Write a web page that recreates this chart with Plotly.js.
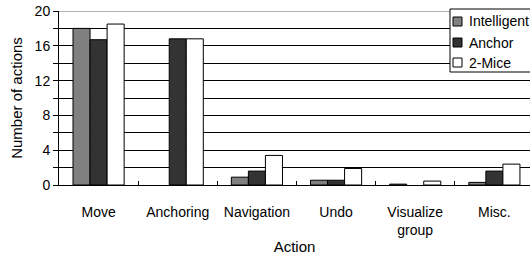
<!DOCTYPE html>
<html><head><meta charset="utf-8">
<script src="https://cdn.plot.ly/plotly-3.0.1.min.js"></script>
<style>html,body{margin:0;padding:0;background:#fff}#c{width:530px;height:256px}</style>
</head><body><div id="c"></div>
<script>
var categories = ["Move", "Anchoring", "Navigation", "Undo", "Visualize<br>group", "Misc."];
var seriesNames = ["Intelligent", "Anchor", "2-Mice"];
var intelligent = [18.0, 0, 0.9, 0.55, 0.1, 0.3];
var anchor = [16.7, 16.8, 1.6, 0.55, 0, 1.6];
var twoMice = [18.5, 16.8, 3.4, 1.9, 0.45, 2.4];
var colors = ["#808080", "#333333", "#ffffff"];
var yTickVals = [0, 2, 4, 6, 8, 10, 12, 14, 16, 18, 20];
var yTickText = ["0", "", "4", "", "8", "", "12", "", "16", "", "20"];

var xs = categories.map(function(_, i){ return i; });
var all = [intelligent, anchor, twoMice];
var traces = all.map(function(v, k){
  return {type: "bar", x: xs, y: v, name: seriesNames[k],
    marker: {color: colors[k], line: {color: "#000", width: v.map(function(d){ return d > 0 ? 1 : 0; })}}, showlegend: false};
});

var L = 59, R = 530, T = 11, B = 185;
function px(x){ return (x - L) / (R - L); }
function py(y){ return (B - y) / (B - T); }

var shapes = [
  {type: "line", xref: "paper", yref: "y", x0: 0, x1: 1, y0: 20, y1: 20, line: {color: "#999", width: 1.5}, layer: "above"},
  {type: "rect", xref: "paper", yref: "paper", x0: px(450), x1: px(540), y0: py(72), y1: py(9), line: {color: "#000", width: 1}, fillcolor: "#fff", layer: "above"}
];
var annotations = [];
var rowsY = [21.5, 42.5, 62.5];
seriesNames.forEach(function(n, k){
  var c = rowsY[k];
  shapes.push({type: "rect", xref: "paper", yref: "paper", x0: px(453), x1: px(462), y0: py(c + 4.5), y1: py(c - 4.5),
    line: {color: "#000", width: 1}, fillcolor: colors[k], layer: "above"});
  annotations.push({xref: "paper", yref: "paper", x: px(467), y: py(c), xanchor: "left", yanchor: "middle",
    text: n, showarrow: false, font: {size: 14, color: "#000"}});
});

var layout = {
  width: 530, height: 256,
  margin: {l: L, r: 530 - R, t: T, b: 256 - B, pad: 0},
  paper_bgcolor: "#fff", plot_bgcolor: "#fff",
  font: {family: "Liberation Sans, Arial, sans-serif", color: "#000", size: 14},
  barmode: "group", bargap: 0.354, bargroupgap: 0,
  xaxis: {
    range: [-0.5, 5.45], tickmode: "array", tickvals: xs, ticktext: categories,
    ticks: "", showgrid: false, zeroline: false, showline: true, linecolor: "#000", linewidth: 1,
    tickfont: {size: 14}, ticklabelstandoff: 14,
    minor: {tickmode: "array", tickvals: [0.5, 1.5, 2.5, 3.5, 4.5], ticks: "inside", ticklen: 4, tickcolor: "#000", showgrid: false},
    title: {text: "Action", font: {size: 15}, standoff: 4}
  },
  yaxis: {
    range: [0, 20], tickmode: "array", tickvals: yTickVals, ticktext: yTickText,
    ticks: "outside", ticklen: 5, tickcolor: "#000", showgrid: true, gridcolor: "#000", gridwidth: 1,
    zeroline: false, showline: true, linecolor: "#000", linewidth: 1,
    tickfont: {size: 14}, title: {text: "Number of actions", font: {size: 15}, standoff: 8}
  },
  shapes: shapes, annotations: annotations, showlegend: false
};
Plotly.newPlot("c", traces, layout, {staticPlot: true, displayModeBar: false});
</script></body></html>
